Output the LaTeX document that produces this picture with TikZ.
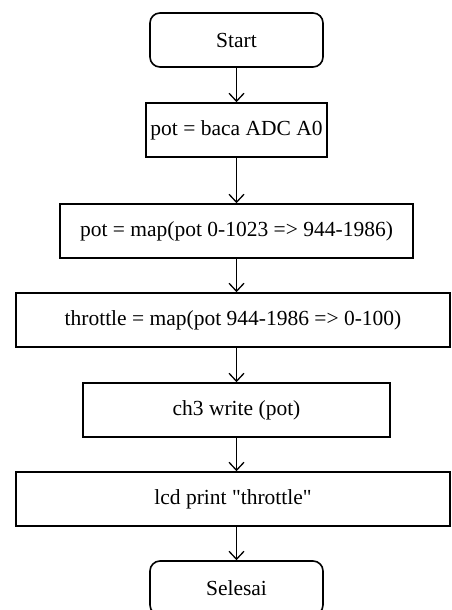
\documentclass[tikz,border=0pt]{standalone}
\usepackage{fontspec}
\setmainfont{Liberation Serif}[Ligatures=TeXOff]
\usetikzlibrary{arrows.meta}
\begin{document}
\begin{tikzpicture}[x=1pt,y=-1pt,
  every node/.style={font=\fontsize{21.5}{26}\selectfont, inner sep=0pt, line width=1.6pt},
  term/.style={draw, rounded corners=10pt},
  proc/.style={draw},
  arr/.style={draw, line width=1.3pt, -{Straight Barb[length=8pt,width=15pt,line width=1.3pt]}}]
\useasboundingbox (0,0) rectangle (451,610);
\node[term, minimum width=173pt, minimum height=54pt] (start) at (236.5,40) {Start};
\node[proc, minimum width=181pt, minimum height=54pt] (b1) at (236.5,130) {pot = baca ADC A0};
\node[proc, minimum width=353pt, minimum height=54pt] (b2) at (236.5,231) {pot = map(pot 0-1023 => 944-1986)};
\node[proc, minimum width=434pt, minimum height=54pt] (b3) at (233,320) {throttle = map(pot 944-1986 => 0-100)};
\node[proc, minimum width=307pt, minimum height=54pt] (b4) at (236.5,410) {ch3 write (pot)};
\node[proc, minimum width=434pt, minimum height=54pt] (b5) at (233,499) {lcd print "throttle"};
\node[term, minimum width=173pt, minimum height=54pt] (end) at (236.5,588) {Selesai};
\draw[arr] (start.south) -- (b1.north);
\draw[arr] (b1.south) -- (b2.north);
\draw[arr] (b2.south) -- (b2.south |- b3.north);
\draw[arr] (b4.north |- b3.south) -- (b4.north);
\draw[arr] (b4.south) -- (b4.south |- b5.north);
\draw[arr] (end.north |- b5.south) -- (end.north);
\end{tikzpicture}
\end{document}
